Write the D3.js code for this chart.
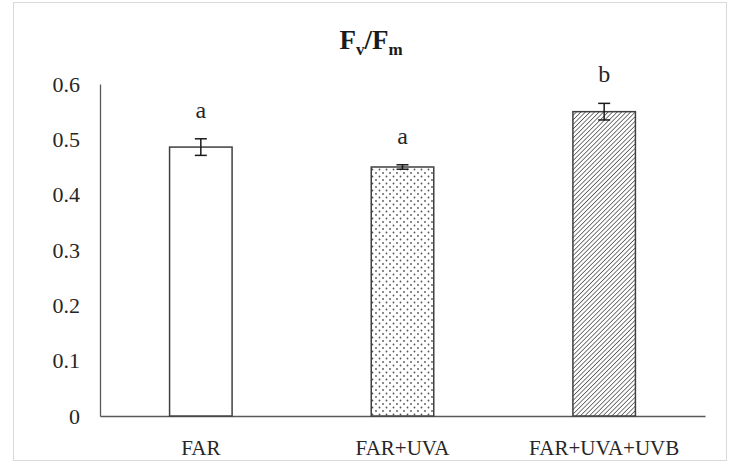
<!DOCTYPE html>
<html><head><meta charset="utf-8">
<script src="https://cdn.jsdelivr.net/npm/d3@7"></script>
<style>body{margin:0;background:#fff}</style>
</head><body>
<script>
const categories = ["FAR", "FAR+UVA", "FAR+UVA+UVB"];
const values = [0.486, 0.450, 0.550];
const errors = [0.015, 0.004, 0.015];
const letters = ["a", "a", "b"];
const patterns = ["none", "dots", "hatch"];
const yTicks = [0, 0.1, 0.2, 0.3, 0.4, 0.5, 0.6];

const W = 732, H = 468;
const svg = d3.select("body").append("svg").attr("width", W).attr("height", H);
svg.append("rect").attr("x", 13.5).attr("y", 2.5).attr("width", 713).attr("height", 458)
  .attr("fill", "#fff").attr("stroke", "#d9d9d9").attr("stroke-width", 1);

const defs = svg.append("defs");
const pd = defs.append("pattern").attr("id", "dots").attr("patternUnits", "userSpaceOnUse")
  .attr("width", 7).attr("height", 7);
pd.append("rect").attr("width", 7).attr("height", 7).attr("fill", "#fff");
pd.append("circle").attr("cx", 1.5).attr("cy", 1.5).attr("r", 0.9).attr("fill", "#555");
pd.append("circle").attr("cx", 5).attr("cy", 5).attr("r", 0.9).attr("fill", "#555");
const ph = defs.append("pattern").attr("id", "hatch").attr("patternUnits", "userSpaceOnUse")
  .attr("width", 3.2).attr("height", 3.2).attr("patternTransform", "rotate(45)");
ph.append("rect").attr("width", 3.2).attr("height", 3.2).attr("fill", "#fff");
ph.append("line").attr("x1", 0).attr("y1", 0).attr("x2", 0).attr("y2", 3.2)
  .attr("stroke", "#404040").attr("stroke-width", 1.4);

const x = d3.scaleBand().domain(categories).range([100, 705]).paddingInner(0.69).paddingOuter(0.345);
const y = d3.scaleLinear().domain([0, 0.6]).range([416, 84]);
const font = "'Liberation Serif','Times New Roman',serif";

// y axis
const ya = svg.append("g").attr("transform", "translate(100,0)")
  .call(d3.axisLeft(y).tickValues(yTicks).tickSize(0).tickPadding(20).tickFormat(d => d3.format("")(+d.toFixed(1))));
ya.attr("font-family", font);
ya.select(".domain").attr("stroke", "#595959").attr("stroke-width", 1.3);
ya.selectAll("text").attr("font-family", font).attr("font-size", 22).attr("fill", "#262626");

// x axis
const xa = svg.append("g").attr("transform", "translate(0,416)")
  .call(d3.axisBottom(x).tickSize(0).tickPadding(24));
xa.attr("font-family", font);
xa.select(".domain").attr("stroke", "#595959").attr("stroke-width", 1.3);
xa.selectAll("text").attr("font-family", font).attr("font-size", 21).attr("fill", "#262626");

// bars
svg.selectAll("rect.bar").data(categories).enter().append("rect").attr("class", "bar")
  .attr("x", d => x(d)).attr("width", x.bandwidth())
  .attr("y", (d, i) => y(values[i])).attr("height", (d, i) => y(0) - y(values[i]))
  .attr("fill", (d, i) => patterns[i] === "none" ? "#fff" : `url(#${patterns[i]})`)
  .attr("stroke", "#404040").attr("stroke-width", 1.5);

// error bars
const eg = svg.append("g").attr("stroke", "#1a1a1a").attr("stroke-width", 1.5);
categories.forEach((c, i) => {
  const cx = x(c) + x.bandwidth() / 2;
  const y1 = y(values[i] + errors[i]), y2 = y(values[i] - errors[i]);
  eg.append("line").attr("x1", cx).attr("x2", cx).attr("y1", y1).attr("y2", y2);
  eg.append("line").attr("x1", cx - 6).attr("x2", cx + 6).attr("y1", y1).attr("y2", y1);
  eg.append("line").attr("x1", cx - 6).attr("x2", cx + 6).attr("y1", y2).attr("y2", y2);
});

// letters
svg.selectAll("text.let").data(categories).enter().append("text").attr("class", "let")
  .attr("x", d => x(d) + x.bandwidth() / 2)
  .attr("y", (d, i) => y(values[i] + errors[i]) - 21)
  .attr("text-anchor", "middle").attr("font-family", font).attr("font-size", 24).attr("fill", "#262626")
  .text((d, i) => letters[i]);

// title
const t = svg.append("text").attr("x", 371).attr("y", 49).attr("text-anchor", "middle")
  .attr("font-family", font).attr("font-size", 27).attr("font-weight", "bold").attr("fill", "#1a1a1a");
t.append("tspan").text("F");
t.append("tspan").attr("font-size", 17).attr("dy", 6).text("v");
t.append("tspan").attr("dy", -6).text("/F");
t.append("tspan").attr("font-size", 17).attr("dy", 6).text("m");
</script>
</body></html>
